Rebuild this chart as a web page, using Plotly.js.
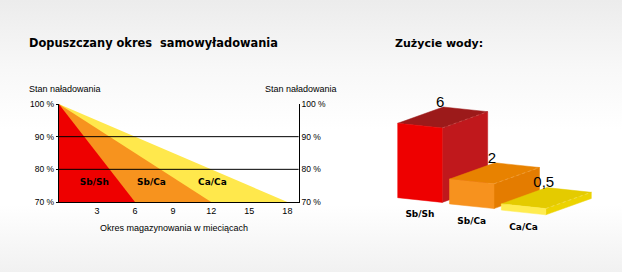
<!DOCTYPE html>
<html>
<head>
<meta charset="utf-8">
<script src="https://cdn.plot.ly/plotly-3.0.1.min.js"></script>
<style>
html,body{margin:0;padding:0;}
body{width:622px;height:272px;overflow:hidden;
background:linear-gradient(to bottom,#ececec 0px,#f8f8f8 70px,#ffffff 130px,#ffffff 205px,#f1f1f1 272px);}
#chart{width:622px;height:272px;}
</style>
</head>
<body>
<div id="chart"></div>
<script>
// ---- data ----
const categories = ['Sb/Sh', 'Sb/Ca', 'Ca/Ca'];
const monthsTo70 = [6, 12, 18];          // months until charge state drops to 70 %
const waterUse = [6, 2, 0.5];            // water consumption
const waterText = ['6', '2', '0,5'];
const xTickVals = [3, 6, 9, 12, 15, 18];
const yTickVals = [70, 80, 90, 100];
const yTickText = ['70 %', '80 %', '90 %', '100 %'];
const gridVals = [80, 90];

// ---- styles / layout constants ----
const areaColors = ['#ee0000', '#f7931e', '#ffe84c'];
const frontColors = ['#ee0000', '#f7921e', '#ffec50'];
const sideColors = ['#c0181c', '#e47c00', '#ecd300'];
const topColors = ['#9c1a1a', '#e88200', '#e4cb00'];
const edgeColors = ['#cf4a4a', '#f0a040', '#f2de5a'];
const labelX = [2.8, 7.3, 12.1];
const labelY = 76;
const W = 622, H = 272;
const fx = px => px / W, fy = py => (H - py) / H;

const traces = [];
// left chart: draw widest area first
for (let i = categories.length - 1; i >= 0; i--) {
  traces.push({
    type: 'scatter', mode: 'lines', xaxis: 'x', yaxis: 'y',
    x: [0, monthsTo70[i], 0, 0], y: [100, 70, 70, 100],
    fill: 'toself', fillcolor: areaColors[i], line: {width: 0, color: areaColors[i]},
    hoverinfo: 'skip', showlegend: false
  });
}
traces.push({
  type: 'scatter', mode: 'text', xaxis: 'x', yaxis: 'y3',
  x: labelX, y: categories.map(() => labelY),
  text: categories.map(c => '<b>' + c + '</b>'),
  textfont: {family: 'DejaVu Sans', size: 9, color: '#000'},
  hoverinfo: 'skip', showlegend: false
});

// right chart: pseudo-3D bars projected into pixel-like axes
const ORIGIN = [397.7, 197.7], STEP = [51.8, 6.2], WV = [44.5, 4.7], DV = [45.5, -16.3], K = 12.4;
const valX = [], valY = [], catX = [], catY = [];
categories.forEach((c, i) => {
  const bx = ORIGIN[0] + STEP[0] * i, by = ORIGIN[1] + STEP[1] * i, h = K * waterUse[i];
  const fbl = [bx, by], fbr = [bx + WV[0], by + WV[1]];
  const ftl = [bx, by - h], ftr = [fbr[0], fbr[1] - h];
  const add = (p, d) => [p[0] + d[0], p[1] + d[1]];
  const btl = add(ftl, DV), btr = add(ftr, DV), bbr = add(fbr, DV);
  const poly = (pts, col) => traces.push({
    type: 'scatter', mode: 'lines', xaxis: 'x2', yaxis: 'y2',
    x: pts.map(p => p[0]).concat([pts[0][0]]), y: pts.map(p => p[1]).concat([pts[0][1]]),
    fill: 'toself', fillcolor: col, line: {width: 0.5, color: col},
    hoverinfo: 'skip', showlegend: false
  });
  poly([fbr, bbr, btr, ftr], sideColors[i]);
  poly([ftl, ftr, btr, btl], topColors[i]);
  poly([fbl, fbr, ftr, ftl], frontColors[i]);
  traces.push({
    type: 'scatter', mode: 'lines', xaxis: 'x2', yaxis: 'y2',
    x: [ftr[0], btr[0]], y: [ftr[1], btr[1]],
    line: {width: 0.8, color: edgeColors[i], dash: 'dot'}, hoverinfo: 'skip', showlegend: false
  });
  valX.push(btl[0] - 3); valY.push(btl[1] - 4);
  catX.push(bx + WV[0] / 2); catY.push(by + WV[1] / 2 + 15);
});
traces.push({
  type: 'scatter', mode: 'text', xaxis: 'x2', yaxis: 'y2', x: valX, y: valY, text: waterText,
  textfont: {family: 'Liberation Sans', size: 15, color: '#000'}, hoverinfo: 'skip', showlegend: false
});
traces.push({
  type: 'scatter', mode: 'text', xaxis: 'x2', yaxis: 'y2', x: catX, y: catY,
  text: categories.map(c => '<b>' + c + '</b>'),
  textfont: {family: 'DejaVu Sans', size: 9, color: '#000'}, hoverinfo: 'skip', showlegend: false
});

const yTickFont = {family: 'Liberation Sans', size: 8.5, color: '#000'};
const xTickFont = {family: 'Liberation Sans', size: 9, color: '#000'};
const yDomain = [fy(202), fy(104)];
const layout = {
  width: W, height: H, margin: {l: 0, r: 0, t: 0, b: 0},
  paper_bgcolor: 'rgba(0,0,0,0)', plot_bgcolor: 'rgba(0,0,0,0)',
  showlegend: false,
  xaxis: {domain: [fx(58.8), fx(298.8)], range: [0, 18.9], anchor: 'y',
    tickvals: xTickVals, ticks: '', showgrid: false, zeroline: false,
    showline: true, linecolor: '#000', linewidth: 1, tickfont: xTickFont, fixedrange: true},
  yaxis: {domain: yDomain, range: [70, 100], anchor: 'x',
    tickvals: yTickVals, ticktext: yTickText, ticks: 'outside', ticklen: 2, tickcolor: '#000',
    showgrid: false, zeroline: false, showline: true, linecolor: '#000', linewidth: 1,
    tickfont: yTickFont, fixedrange: true},
  yaxis3: {domain: yDomain, range: [70, 100], anchor: 'x', overlaying: 'y', side: 'right',
    tickvals: yTickVals, ticktext: yTickText, ticks: '', showgrid: false, zeroline: false,
    showline: true, linecolor: '#000', linewidth: 1, tickfont: yTickFont, fixedrange: true},
  xaxis2: {domain: [fx(360), 1], range: [360, 622], anchor: 'y2', visible: false, fixedrange: true},
  yaxis2: {domain: [0, 1], range: [272, 0], anchor: 'x2', visible: false, fixedrange: true},
  shapes: gridVals.map(v => ({type: 'line', xref: 'x', yref: 'y', x0: 0, x1: 18.9, y0: v, y1: v,
    line: {color: '#000', width: 1}, layer: 'above'})),
  annotations: [
    {text: '<b>Dopuszczany okres\u00a0 samowyładowania</b>', xref: 'paper', yref: 'paper',
      x: fx(27), y: fy(43), xanchor: 'left', yanchor: 'middle', showarrow: false,
      font: {family: 'DejaVu Sans', size: 11.4, color: '#000'}},
    {text: '<b>Zużycie wody:</b>', xref: 'paper', yref: 'paper',
      x: fx(393), y: fy(43), xanchor: 'left', yanchor: 'middle', showarrow: false,
      font: {family: 'DejaVu Sans', size: 11, color: '#000'}},
    {text: 'Stan naładowania', xref: 'paper', yref: 'paper', x: fx(27), y: fy(89),
      xanchor: 'left', yanchor: 'middle', showarrow: false, font: {family: 'Liberation Sans', size: 9, color: '#000'}},
    {text: 'Stan naładowania', xref: 'paper', yref: 'paper', x: fx(263), y: fy(89),
      xanchor: 'left', yanchor: 'middle', showarrow: false, font: {family: 'Liberation Sans', size: 9, color: '#000'}},
    {text: 'Okres magazynowania w mieciącach', xref: 'paper', yref: 'paper', x: fx(174), y: fy(228),
      xanchor: 'center', yanchor: 'middle', showarrow: false, font: {family: 'Liberation Sans', size: 9, color: '#000'}}
  ]
};
Plotly.newPlot('chart', traces, layout, {staticPlot: true, displayModeBar: false});
</script>
</body>
</html>
